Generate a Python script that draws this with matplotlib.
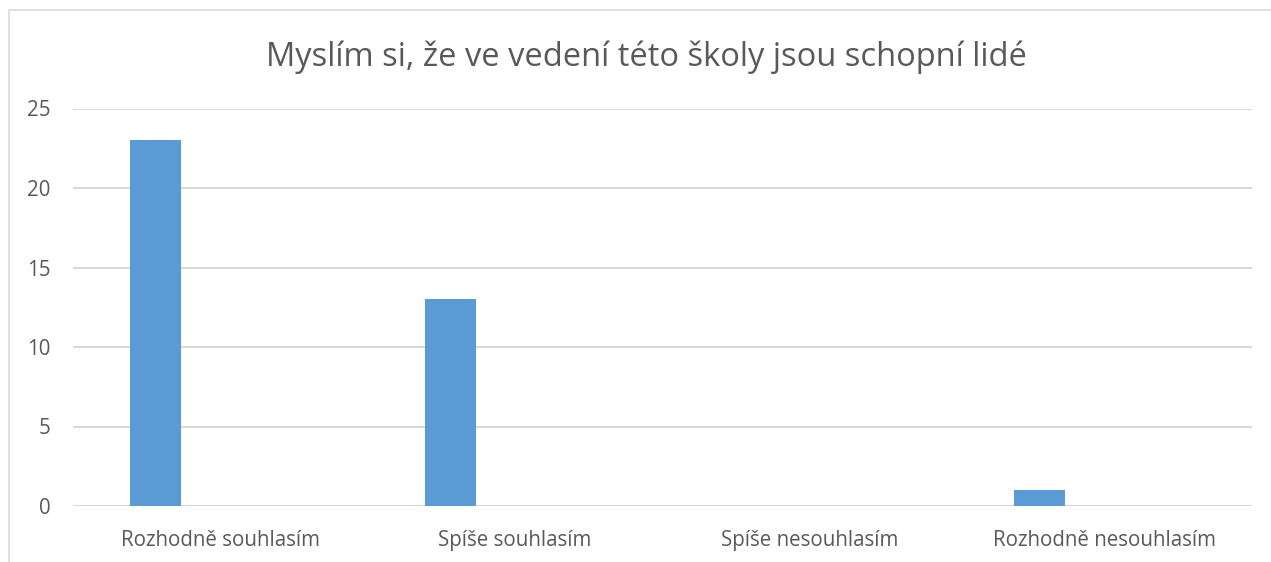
import matplotlib
matplotlib.use('Agg')
import matplotlib.pyplot as plt
import numpy as np
from matplotlib.patches import Rectangle

categories = ['Rozhodně souhlasím', 'Spíše souhlasím', 'Spíše nesouhlasím', 'Rozhodně nesouhlasím']
values = [23, 13, 0, 1]
title = 'Myslím si, že ve vedení této školy jsou schopní lidé'
yticks = [0, 5, 10, 15, 20, 25]

plt.rcParams['font.family'] = ['Open Sans', 'DejaVu Sans']
text_color = '#595959'
grid_color = '#d9d9d9'
bar_color = '#5b9bd5'

fig = plt.figure(figsize=(12.71, 5.62), dpi=100)
# chart frame (cut off on the right and at the bottom)
fig.patches.append(Rectangle((9 / 1271, -0.1), 1.2, 1 - 10 / 562 + 0.1,
                             transform=fig.transFigure, fill=False,
                             edgecolor=grid_color, linewidth=1.2))

ax = fig.add_axes([73 / 1271, 1 - 506 / 562, (1252 - 73) / 1271, (506 - 108.5) / 562])

x = np.arange(len(categories))
ax.bar(x - 0.22, values, width=0.173, color=bar_color, zorder=3)

ax.set_xlim(-0.5, len(categories) - 0.5)
ax.set_ylim(0, 25)
ax.set_yticks(yticks)
ax.set_xticks(x)
ax.set_xticklabels(categories)
ax.tick_params(axis='both', length=0, labelsize=14.8, colors=text_color)
ax.tick_params(axis='y', pad=16)
ax.tick_params(axis='x', pad=17)
ax.grid(axis='y', color=grid_color, linewidth=1.5, zorder=0)
for s in ax.spines.values():
    s.set_visible(False)

fig.text(646 / 1271, 1 - 57 / 562, title, ha='center', va='center',
         fontsize=23.5, color=text_color)

fig.savefig('out.png', dpi=100)
